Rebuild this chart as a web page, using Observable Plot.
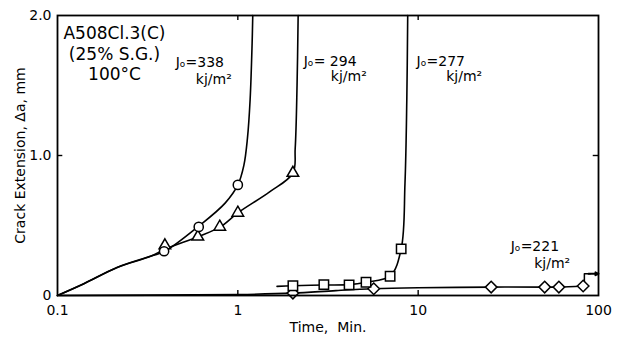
<!DOCTYPE html>
<html>
<head>
<meta charset="utf-8">
<script src="https://cdn.jsdelivr.net/npm/d3@7"></script>
<script src="https://cdn.jsdelivr.net/npm/@observablehq/plot@0.6"></script>
<style>
  html, body { margin: 0; padding: 0; background: white; }
  #chart { width: 629px; height: 338px; }
</style>
</head>
<body>
<div id="chart"></div>
<script>
// ---- data ----
const xTicks = [0.1, 1, 10, 100];
const xTickLabels = ["0.1", "1", "10", "100"];
const yTicks = [0, 1, 2];
const yTickLabels = ["0", "1.0", "2.0"];
const xLabel = "Time,  Min.";
const yLabel = "Crack Extension, \u0394a, mm";

// J0 = 338 (circles)
const curve338 = [[0.1,0],[0.14,0.084],[0.214,0.2],[0.328,0.28],[0.394,0.316],[0.6,0.49],[0.85,0.66],[1.0,0.79],[1.08,0.93],[1.13,1.12],[1.17,1.4],[1.2,1.8],[1.21,2.0]];
const pts338 = [[0.39,0.316],[0.607,0.49],[1.0,0.79]];
// J0 = 294 (triangles)
const curve294 = [[0.1,0],[0.14,0.084],[0.214,0.2],[0.328,0.28],[0.394,0.33],[0.6,0.42],[0.8,0.49],[1.0,0.59],[1.5,0.74],[2.02,0.875],[2.08,1.05],[2.13,1.5],[2.16,2.0]];
const pts294 = [[0.394,0.357],[0.6,0.42],[0.794,0.49],[1.0,0.59],[2.02,0.875]];
// J0 = 277 (squares)
const curve277 = [[1.65,0.065],[2.02,0.07],[3.0,0.075],[4.14,0.078],[5.14,0.095],[7.0,0.14],[8.05,0.333],[8.45,0.8],[8.65,1.4],[8.75,2.0]];
const pts277 = [[2.02,0.07],[3.0,0.078],[4.14,0.076],[5.14,0.095],[6.99,0.138],[8.05,0.333]];
// J0 = 221 (diamonds)
const curve221 = [[0.1,0],[1.0,0.007],[2.02,0.017],[3.5,0.035],[5.67,0.048],[10,0.055],[25.4,0.06],[50.3,0.06],[60.3,0.06],[82.2,0.068]];
const pts221 = [[2.02,0.017],[5.67,0.048],[25.4,0.06],[50.3,0.06],[60.3,0.06],[82.2,0.068]];
const arrowPath221 = [[83.5,0.09],[83.5,0.155],[90,0.155]];
const arrow221 = [{x1: 88, y1: 0.155, x2: 100, y2: 0.155}];

// annotations (data coordinates)
const titleLines = ["A508Cl.3(C)", "(25% S.G.)", "100\u00b0C"];
const titleY = [1.83, 1.685, 1.54];
const titleX = 0.207;
const jLabels = [
  {x: 0.452, y: 1.63, t: "J\u2092=338"}, {x: 0.585, y: 1.51, t: "kj/m\u00b2"},
  {x: 2.32, y: 1.64, t: "J\u2092= 294"}, {x: 3.28, y: 1.535, t: "kj/m\u00b2"},
  {x: 9.8, y: 1.64, t: "J\u2092=277"}, {x: 14.3, y: 1.535, t: "kj/m\u00b2"},
  {x: 32.6, y: 0.32, t: "J\u2092=221"}, {x: 44.0, y: 0.193, t: "kj/m\u00b2"}
];
// inward tick marks
const innerXTicks = [1, 10];
const innerYTicks = [1];

const P = a => a.map(([x, y]) => ({x, y}));
const lineOpts = {x: "x", y: "y", stroke: "black", strokeWidth: 1.6, curve: "catmull-rom"};
const dotOpts = {x: "x", y: "y", stroke: "black", fill: "white", strokeWidth: 1.5};

const chart = Plot.plot({
  width: 629,
  height: 338,
  marginLeft: 57,
  marginRight: 31,
  marginTop: 15,
  marginBottom: 43,
  x: {type: "log", domain: [0.1, 100]},
  y: {domain: [0, 2]},
  style: {fontFamily: "DejaVu Sans", fontSize: "14px", background: "white", color: "black"},
  marks: [
    Plot.axisX({ticks: xTicks, tickFormat: d => xTickLabels[xTicks.indexOf(d)], tickSize: 0, tickPadding: 10, fontSize: 14, label: null}),
    Plot.axisY({ticks: yTicks, tickFormat: d => yTickLabels[yTicks.indexOf(d)], tickSize: 0, tickPadding: 6, fontSize: 14,
                label: yLabel, labelAnchor: "center", labelArrow: "none", labelOffset: 42}),
    Plot.ruleX(innerXTicks, {y1: 0, y2: 0.035, stroke: "black", strokeWidth: 1.4}),
    Plot.ruleX(innerXTicks, {y1: 2, y2: 1.965, stroke: "black", strokeWidth: 1.4}),
    Plot.ruleY(innerYTicks, {x1: 0.1, x2: 0.107, stroke: "black", strokeWidth: 1.4}),
    Plot.ruleY(innerYTicks, {x1: 100, x2: 93.5, stroke: "black", strokeWidth: 1.4}),
    Plot.line(P(curve221), lineOpts),
    Plot.line(P(curve338), lineOpts),
    Plot.line(P(curve294), lineOpts),
    Plot.line(P(curve277), lineOpts),
    Plot.line(P(arrowPath221), {x: "x", y: "y", stroke: "black", strokeWidth: 1.5}),
    Plot.arrow(arrow221, {x1: "x1", y1: "y1", x2: "x2", y2: "y2", stroke: "black", strokeWidth: 2, headLength: 9, headAngle: 50}),
    Plot.dot(P(pts221), {...dotOpts, symbol: "diamond2", r: 5.2}),
    Plot.dot(P(pts277), {...dotOpts, symbol: "square", r: 5.3}),
    Plot.dot(P(pts294), {...dotOpts, symbol: "triangle", r: 4.3}),
    Plot.dot(P(pts338), {...dotOpts, symbol: "circle", r: 4.6}),
    Plot.frame({stroke: "black", strokeWidth: 1.8}),
    Plot.text(titleLines, {x: () => titleX, y: (d, i) => titleY[i], text: d => d, textAnchor: "middle", lineAnchor: "bottom", fontSize: 17, fill: "black"}),
    Plot.text(jLabels, {x: "x", y: "y", text: "t", textAnchor: "start", lineAnchor: "bottom", fontSize: 14, fill: "black"}),
    Plot.text([xLabel], {frameAnchor: "bottom", dy: 36, lineAnchor: "bottom", fontSize: 14, fill: "black"})
  ]
});
document.getElementById("chart").appendChild(chart);
</script>
</body>
</html>
